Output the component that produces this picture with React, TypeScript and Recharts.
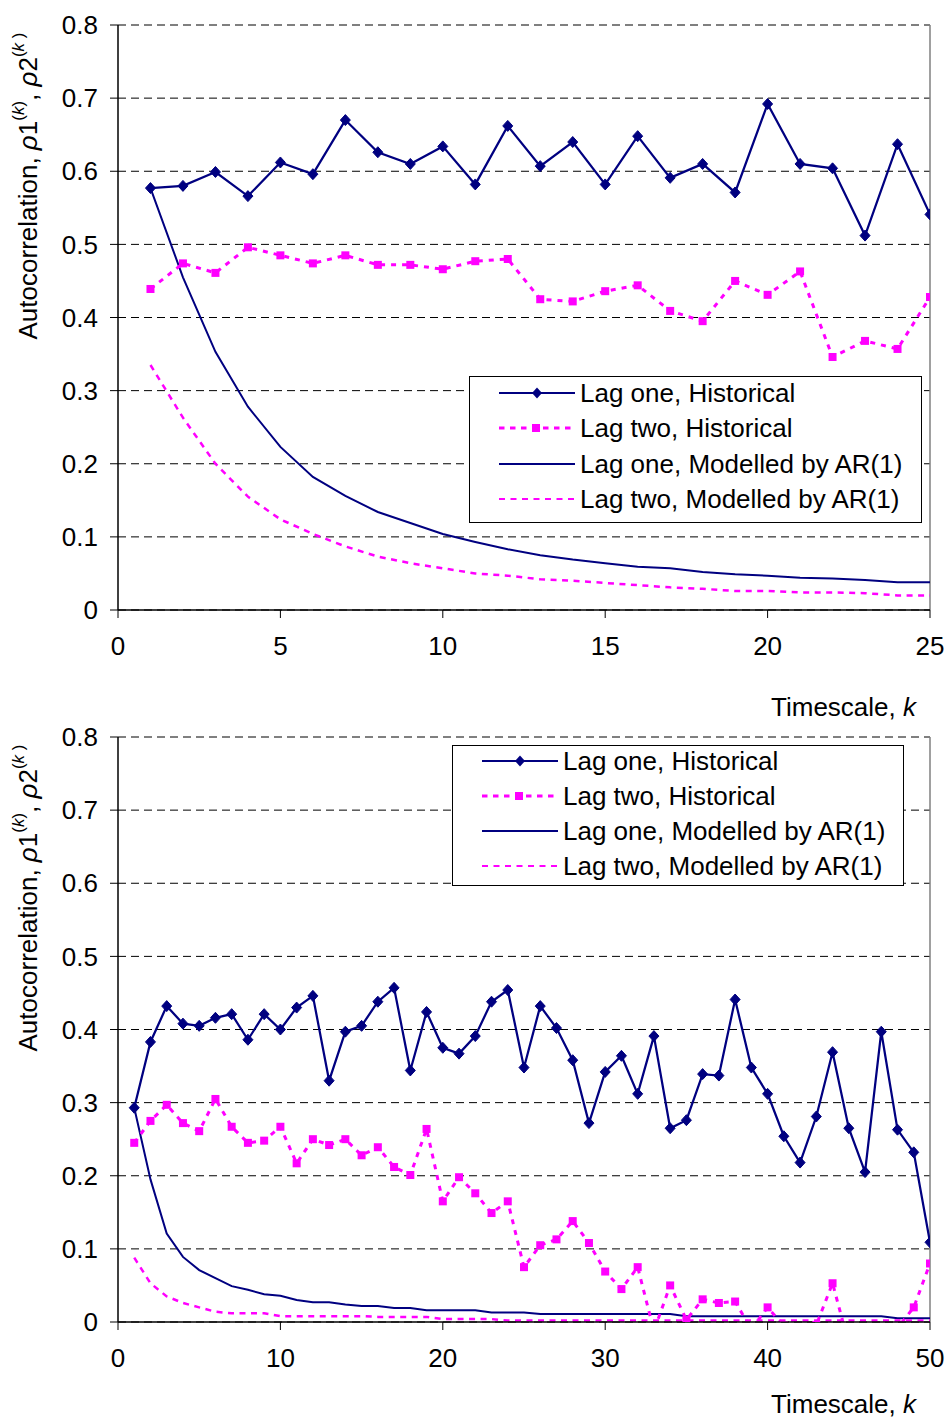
import React from "react";
import { LineChart, Line, XAxis, YAxis, CartesianGrid, ReferenceLine } from "recharts";

const FONT = '"Liberation Sans", Arial, Helvetica, sans-serif';
const NAVY = "#000080";
const MAGENTA = "#FF00FF";

// timescales
const kTop = [1, 2, 3, 4, 5, 6, 7, 8, 9, 10, 11, 12, 13, 14, 15, 16, 17, 18, 19, 20, 21, 22, 23, 24, 25];
const kBottom = [
  1, 2, 3, 4, 5, 6, 7, 8, 9, 10, 11, 12, 13, 14, 15, 16, 17, 18, 19, 20, 21, 22, 23, 24, 25,
  26, 27, 28, 29, 30, 31, 32, 33, 34, 35, 36, 37, 38, 39, 40, 41, 42, 43, 44, 45, 46, 47, 48, 49, 50,
];

const yTicks = [0, 0.1, 0.2, 0.3, 0.4, 0.5, 0.6, 0.7, 0.8];
const xTicksTop = [0, 5, 10, 15, 20, 25];
const xTicksBottom = [0, 10, 20, 30, 40, 50];

// upper panel (k = 1..25)
const lag1HistTop = [0.577, 0.58, 0.599, 0.566, 0.612, 0.596, 0.67, 0.626, 0.61, 0.634, 0.582, 0.662, 0.607, 0.64, 0.582, 0.648, 0.591, 0.61, 0.571, 0.692, 0.61, 0.604, 0.512, 0.637, 0.541];
const lag2HistTop = [0.439, 0.474, 0.461, 0.496, 0.485, 0.474, 0.485, 0.472, 0.472, 0.466, 0.477, 0.48, 0.425, 0.422, 0.436, 0.444, 0.409, 0.395, 0.45, 0.431, 0.463, 0.346, 0.368, 0.357, 0.428];
const lag1ModTop = [0.577, 0.455, 0.353, 0.278, 0.223, 0.182, 0.156, 0.134, 0.119, 0.104, 0.093, 0.083, 0.075, 0.069, 0.064, 0.059, 0.057, 0.052, 0.049, 0.047, 0.044, 0.043, 0.041, 0.038, 0.038];
const lag2ModTop = [0.335, 0.263, 0.2, 0.155, 0.124, 0.104, 0.087, 0.073, 0.064, 0.057, 0.05, 0.047, 0.042, 0.04, 0.037, 0.034, 0.031, 0.029, 0.026, 0.026, 0.024, 0.024, 0.023, 0.02, 0.02];

// lower panel (k = 1..50)
const lag1HistBottom = [
  0.293, 0.383, 0.432, 0.408, 0.405, 0.416, 0.421, 0.386, 0.421, 0.4,
  0.43, 0.446, 0.33, 0.397, 0.405, 0.438, 0.457, 0.344, 0.424, 0.375,
  0.367, 0.391, 0.438, 0.454, 0.348, 0.432, 0.402, 0.358, 0.272, 0.342,
  0.364, 0.312, 0.391, 0.265, 0.276, 0.339, 0.337, 0.441, 0.348, 0.312,
  0.254, 0.218, 0.281, 0.369, 0.265, 0.205, 0.397, 0.263, 0.232, 0.109,
];
const lag2HistBottom = [
  0.245, 0.275, 0.297, 0.272, 0.261, 0.305, 0.267, 0.245, 0.248, 0.267,
  0.217, 0.25, 0.242, 0.25, 0.228, 0.239, 0.212, 0.201, 0.264, 0.165,
  0.198, 0.176, 0.149, 0.165, 0.075, 0.105, 0.113, 0.138, 0.108, 0.069,
  0.045, 0.075, -0.012, 0.05, 0.003, 0.031, 0.026, 0.028, -0.01, 0.02,
  -0.005, -0.008, -0.004, 0.053, -0.03, -0.01, -0.006, -0.008, 0.02, 0.08,
];
const lag1ModBottom = [
  0.293, 0.195, 0.121, 0.089, 0.071, 0.06, 0.049, 0.044, 0.038, 0.036,
  0.03, 0.027, 0.027, 0.024, 0.022, 0.022, 0.019, 0.019, 0.016, 0.016,
  0.016, 0.016, 0.013, 0.013, 0.013, 0.011, 0.011, 0.011, 0.011, 0.011,
  0.011, 0.011, 0.011, 0.011, 0.008, 0.008, 0.008, 0.008, 0.008, 0.008,
  0.008, 0.008, 0.008, 0.008, 0.008, 0.008, 0.008, 0.005, 0.005, 0.005,
];
const lag2ModBottom = [
  0.088, 0.053, 0.035, 0.026, 0.02, 0.014, 0.012, 0.012, 0.012, 0.008,
  0.008, 0.008, 0.008, 0.008, 0.008, 0.007, 0.007, 0.007, 0.007, 0.004,
  0.004, 0.004, 0.004, 0.002, 0.002, 0.002, 0.002, 0.002, 0.002, 0.002,
  0.002, 0.002, 0.002, 0.002, 0.002, 0.002, 0.002, 0.002, 0.002, 0.002,
  0.002, 0.002, 0.002, 0.002, 0.002, 0.002, 0.002, 0.002, 0.002, 0.002,
];

const legendNames = [
  "Lag one, Historical",
  "Lag two, Historical",
  "Lag one, Modelled by AR(1)",
  "Lag two, Modelled by AR(1)",
];

function buildRows(ks: number[], a: number[], b: number[], c: number[], d: number[]) {
  return ks.map((k, i) => ({ k, lag1Hist: a[i], lag2Hist: b[i], lag1Mod: c[i], lag2Mod: d[i] }));
}

const Diamond = (props: any) => {
  const { cx, cy, index } = props;
  if (cx == null || cy == null) return <g key={`d${index}`} />;
  return (
    <path
      key={`d${index}`}
      d={`M${cx},${cy - 5.5}L${cx + 5},${cy}L${cx},${cy + 5.5}L${cx - 5},${cy}Z`}
      fill={NAVY}
      stroke={NAVY}
      strokeWidth={1}
    />
  );
};

const Square = (props: any) => {
  const { cx, cy, index } = props;
  if (cx == null || cy == null) return <g key={`s${index}`} />;
  return <rect key={`s${index}`} x={cx - 4} y={cy - 4} width={8} height={8} fill={MAGENTA} />;
};

const yLabel = () => (
  <text
    x={28}
    y={186}
    transform="rotate(-90, 28, 186)"
    textAnchor="middle"
    dominantBaseline="central"
    fontFamily={FONT}
    fontSize={26}
    fill="#000"
  >
    Autocorrelation,{" "}
    <tspan fontStyle="italic">ρ</tspan>1
    <tspan dy={-10} fontSize={17}>(</tspan>
    <tspan fontSize={17} fontStyle="italic">k</tspan>
    <tspan fontSize={17}>)</tspan>
    <tspan dy={10}>, </tspan>
    <tspan fontStyle="italic">ρ</tspan>2
    <tspan dy={-10} fontSize={17}>(</tspan>
    <tspan fontSize={17} fontStyle="italic">k</tspan>
    <tspan fontSize={17}> )</tspan>
  </text>
);

function xLabel(y: number) {
  return () => (
    <text x={916} y={y} textAnchor="end" fontFamily={FONT} fontSize={26} fill="#000">
      Timescale, <tspan fontStyle="italic">k</tspan>
    </text>
  );
}

function LegendSample({ idx }: { idx: number }) {
  return (
    <svg width={76} height={20} style={{ display: "block" }}>
      {idx === 0 && (
        <>
          <line x1={0} y1={10} x2={76} y2={10} stroke={NAVY} strokeWidth={2} />
          <path d="M38,4.5L43,10L38,15.5L33,10Z" fill={NAVY} />
        </>
      )}
      {idx === 1 && (
        <>
          <line x1={0} y1={10} x2={76} y2={10} stroke={MAGENTA} strokeWidth={3} strokeDasharray="5.5 5.5" />
          <rect x={33} y={6} width={8} height={8} fill={MAGENTA} />
        </>
      )}
      {idx === 2 && <line x1={0} y1={10} x2={76} y2={10} stroke={NAVY} strokeWidth={2} />}
      {idx === 3 && (
        <line x1={0} y1={10} x2={76} y2={10} stroke={MAGENTA} strokeWidth={2} strokeDasharray="6 5.5" />
      )}
    </svg>
  );
}

function LegendBox({
  left,
  top,
  width,
  height,
  rowHeight,
}: {
  left: number;
  top: number;
  width: number;
  height: number;
  rowHeight: number;
}) {
  return (
    <div
      style={{
        position: "absolute",
        left,
        top,
        width,
        height,
        boxSizing: "border-box",
        border: "1px solid #000",
        background: "#fff",
        fontFamily: FONT,
        fontSize: 26,
        lineHeight: "30px",
        color: "#000",
      }}
    >
      <div style={{ position: "relative", top: -2 }}>
        {legendNames.map((name, i) => (
          <div key={name} style={{ display: "flex", alignItems: "center", height: rowHeight, paddingLeft: 29 }}>
            <LegendSample idx={i} />
            <span style={{ marginLeft: 5, whiteSpace: "nowrap" }}>{name}</span>
          </div>
        ))}
      </div>
    </div>
  );
}

function Panel({
  rows,
  xMax,
  xTicks,
  height,
  labelY,
}: {
  rows: any[];
  xMax: number;
  xTicks: number[];
  height: number;
  labelY: number;
}) {
  const tickStyle = { fontSize: 26, fill: "#000", fontFamily: FONT };
  return (
    <LineChart
      width={946}
      height={height}
      data={rows}
      margin={{ top: 25, right: 16, bottom: height - 25 - 585 - 60, left: 0 }}
    >
      <CartesianGrid vertical={false} stroke="#000" strokeDasharray="8 5" />
      <XAxis
        type="number"
        dataKey="k"
        domain={[0, xMax]}
        ticks={xTicks}
        allowDataOverflow
        height={60}
        tick={tickStyle}
        tickSize={8}
        tickMargin={19}
        axisLine={{ stroke: "#000", strokeWidth: 1.5 }}
        tickLine={{ stroke: "#000" }}
        label={xLabel(labelY)}
      />
      <YAxis
        type="number"
        domain={[0, 0.8]}
        ticks={yTicks}
        allowDataOverflow
        width={118}
        tick={tickStyle}
        tickSize={8}
        tickMargin={12}
        tickFormatter={(v: number) => (v === 0 ? "0" : v.toFixed(1))}
        axisLine={{ stroke: "#000", strokeWidth: 1.5 }}
        tickLine={{ stroke: "#000" }}
        label={yLabel}
      />
      <ReferenceLine x={xMax} stroke="#808080" strokeWidth={1.5} />
      <Line
        type="linear"
        dataKey="lag1Mod"
        stroke={NAVY}
        strokeWidth={2}
        dot={false}
        isAnimationActive={false}
      />
      <Line
        type="linear"
        dataKey="lag2Mod"
        stroke={MAGENTA}
        strokeWidth={2.5}
        strokeDasharray="6 5.5"
        dot={false}
        isAnimationActive={false}
      />
      <Line
        type="linear"
        dataKey="lag2Hist"
        stroke={MAGENTA}
        strokeWidth={3}
        strokeDasharray="5 6"
        dot={Square}
        isAnimationActive={false}
      />
      <Line
        type="linear"
        dataKey="lag1Hist"
        stroke={NAVY}
        strokeWidth={2.25}
        dot={Diamond}
        isAnimationActive={false}
      />
    </LineChart>
  );
}

export default function App() {
  const topRows = buildRows(kTop, lag1HistTop, lag2HistTop, lag1ModTop, lag2ModTop);
  const bottomRows = buildRows(kBottom, lag1HistBottom, lag2HistBottom, lag1ModBottom, lag2ModBottom);
  return (
    <div
      style={{
        position: "absolute",
        left: 0,
        top: 0,
        width: 946,
        height: 1420,
        background: "#fff",
        overflow: "hidden",
      }}
    >
      <div style={{ position: "absolute", left: 0, top: 0 }}>
        <Panel rows={topRows} xMax={25} xTicks={xTicksTop} height={722} labelY={716} />
      </div>
      <LegendBox left={469} top={376} width={453} height={147} rowHeight={35.5} />
      <div style={{ position: "absolute", left: 0, top: 712 }}>
        <Panel rows={bottomRows} xMax={50} xTicks={xTicksBottom} height={708} labelY={701} />
      </div>
      <LegendBox left={452} top={745} width={452} height={141} rowHeight={34.8} />
    </div>
  );
}
